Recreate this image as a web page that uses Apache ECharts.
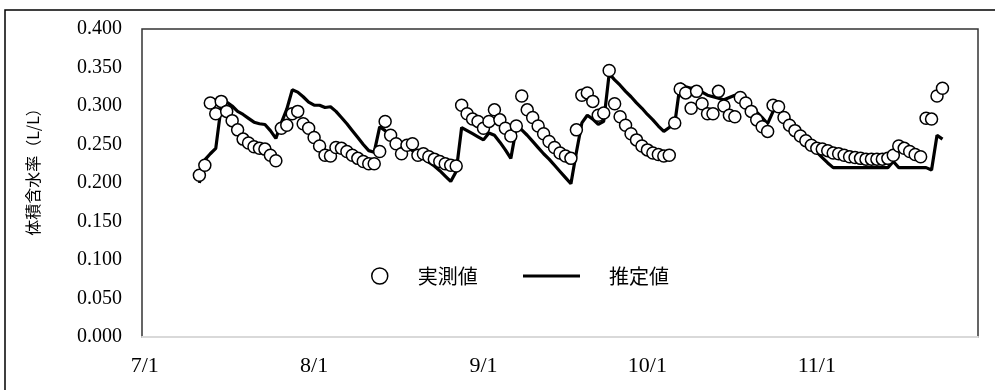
<!DOCTYPE html>
<html><head><meta charset="utf-8">
<script src="https://cdn.jsdelivr.net/npm/echarts@6/dist/echarts.min.js"></script>
<style>html,body{margin:0;padding:0;background:#fff}#c{width:995px;height:390px}</style>
</head><body><div id="c"></div>
<script>
const dates = [
'7/11','7/12','7/13','7/14','7/15','7/16','7/17','7/18','7/19','7/20','7/21','7/22','7/23','7/24','7/25','7/26','7/27','7/28','7/29','7/30','7/31',
'8/1','8/2','8/3','8/4','8/5','8/6','8/7','8/8','8/9','8/10','8/11','8/12','8/13','8/14','8/15','8/16','8/17','8/18','8/19','8/20','8/21','8/22','8/23','8/24','8/25','8/26','8/27','8/28','8/29','8/30','8/31',
'9/1','9/2','9/3','9/4','9/5','9/6','9/7','9/8','9/9','9/10','9/11','9/12','9/13','9/14','9/15','9/16','9/17','9/18','9/19','9/20','9/21','9/22','9/23','9/24','9/25','9/26','9/27','9/28','9/29','9/30',
'10/1','10/2','10/3','10/4','10/5','10/6','10/7','10/8','10/9','10/10','10/11','10/12','10/13','10/14','10/15','10/16','10/17','10/18','10/19','10/20','10/21','10/22','10/23','10/24','10/25','10/26','10/27','10/28','10/29','10/30','10/31',
'11/1','11/2','11/3','11/4','11/5','11/6','11/7','11/8','11/9','11/10','11/11','11/12','11/13','11/14','11/15','11/16','11/17','11/18','11/19','11/20','11/21','11/22','11/23','11/24'
];
const measured = [
0.210,0.223,0.304,0.290,0.306,0.293,0.281,0.269,0.257,0.252,0.247,0.245,0.244,0.236,0.229,0.271,0.275,0.290,0.293,0.277,0.271,
0.259,0.248,0.236,0.235,0.246,0.245,0.241,0.236,0.232,0.228,0.225,0.225,0.241,0.280,0.262,0.251,0.238,0.249,0.251,0.236,0.238,0.234,0.231,0.228,0.225,0.223,0.222,0.301,0.290,0.283,0.280,
0.271,0.280,0.295,0.282,0.271,0.261,0.274,0.313,0.295,0.285,0.274,0.264,0.254,0.246,0.239,0.235,0.232,0.269,0.314,0.317,0.306,0.288,0.291,0.346,0.303,0.286,0.275,0.264,0.256,0.248,
0.243,0.239,0.237,0.235,0.236,0.278,0.322,0.317,0.297,0.319,0.303,0.290,0.290,0.319,0.300,0.288,0.286,0.311,0.304,0.293,0.282,0.273,0.267,0.301,0.299,0.285,0.275,0.268,0.261,0.255,0.249,
0.245,0.244,0.242,0.239,0.238,0.236,0.234,0.233,0.232,0.231,0.231,0.231,0.231,0.232,0.236,0.248,0.245,0.241,0.237,0.234,0.284,0.283,0.313,0.323
];
const estimated = [
0.200,0.230,0.238,0.245,0.300,0.305,0.300,0.293,0.289,0.284,0.279,0.277,0.276,0.268,0.258,0.278,0.296,0.321,0.318,0.312,0.305,
0.301,0.301,0.298,0.299,0.293,0.285,0.277,0.268,0.259,0.250,0.242,0.240,0.273,0.268,0.262,0.257,0.252,0.247,0.242,0.237,0.232,0.227,0.222,0.216,0.209,0.202,0.215,0.272,0.268,0.264,0.260,
0.256,0.265,0.262,0.253,0.243,0.232,0.271,0.269,0.262,0.254,0.246,0.238,0.231,0.223,0.215,0.207,0.199,0.240,0.278,0.288,0.283,0.276,0.280,0.342,0.334,0.327,0.319,0.312,0.304,0.297,
0.289,0.282,0.274,0.267,0.272,0.277,0.329,0.325,0.323,0.325,0.318,0.314,0.312,0.310,0.308,0.311,0.314,0.311,0.308,0.300,0.292,0.285,0.277,0.293,0.297,0.290,0.282,0.273,0.265,0.256,0.248,
0.240,0.233,0.226,0.220,0.220,0.220,0.220,0.220,0.220,0.220,0.220,0.220,0.220,0.220,0.228,0.220,0.220,0.220,0.220,0.220,0.220,0.217,0.262,0.257
];
const tickLabels = ['7/1','8/1','9/1','10/1','11/1'];
const axisStart = '7/1';
const axisEnd = '12/1';
const yMin = 0, yMax = 0.4, yStep = 0.05;
const seriesNames = ['実測値','推定値'];
const yAxisTitle = '体積含水率（L/L）';

function dayOf(s){const p=s.split('/').map(Number);return (Date.UTC(2021,p[0]-1,p[1])-Date.UTC(2021,6,1))/864e5;}
const tickDays = tickLabels.map(dayOf);
const measuredData = dates.map((d,i)=>[dayOf(d),measured[i]]);
const estimatedData = dates.map((d,i)=>[dayOf(d),estimated[i]]);

const chart = echarts.init(document.getElementById('c'), null, {renderer:'canvas'});
chart.setOption({
  animation:false,
  backgroundColor:'#fff',
  graphic:[
    {type:'rect',silent:true,shape:{x:5,y:10,width:1100,height:500},style:{fill:'none',stroke:'#000',lineWidth:1.5}},
    {type:'text',silent:true,x:33,y:168,rotation:Math.PI/2,
     style:{text:yAxisTitle,fontFamily:'Noto Sans CJK JP',fontSize:16,fill:'#000',align:'center',verticalAlign:'middle'}}
  ],
  grid:{left:142,top:29,right:17,bottom:53,show:true,borderColor:'#333',borderWidth:1.5,backgroundColor:'transparent',outerBoundsMode:'none'},
  legend:[
    {data:[seriesNames[0]],left:371,top:266,padding:0,icon:'circle',itemWidth:16,itemHeight:16,
     itemStyle:{color:'#fff',borderColor:'#000',borderWidth:1.5},
     textStyle:{fontFamily:'Noto Sans CJK JP',fontSize:20,color:'#000',padding:[0,0,0,25]}},
    {data:[seriesNames[1]],left:523,top:266,padding:0,icon:'rect',itemWidth:57,itemHeight:3,
     itemStyle:{color:'#000',borderWidth:0},
     textStyle:{fontFamily:'Noto Sans CJK JP',fontSize:20,color:'#000',padding:[0,0,0,24]}}
  ],
  xAxis:{type:'value',min:dayOf(axisStart)-0.5,max:dayOf(axisEnd)-0.5,
    axisLine:{show:true,lineStyle:{color:'#d9d9d9',width:2}},
    axisTick:{show:false},splitLine:{show:false},
    axisLabel:{customValues:tickDays,margin:18,fontFamily:'Liberation Serif',fontSize:22,color:'#000',
      formatter:v=>{const i=tickDays.indexOf(v);return i>=0?tickLabels[i]:'';}}},
  yAxis:{type:'value',min:yMin,max:yMax,interval:yStep,
    axisLine:{show:false},axisTick:{show:false},splitLine:{show:false},
    axisLabel:{margin:20,fontFamily:'Liberation Serif',fontSize:20,color:'#000',formatter:v=>v.toFixed(3)}},
  series:[
    {name:seriesNames[1],type:'line',data:estimatedData,showSymbol:false,symbol:'none',color:'#000',
     lineStyle:{color:'#000',width:3.2},z:2},
    {name:seriesNames[0],type:'scatter',data:measuredData,symbol:'circle',symbolSize:12,
     itemStyle:{color:'#fff',borderColor:'#000',borderWidth:1.5,opacity:1},z:3}
  ]
});
</script></body></html>
